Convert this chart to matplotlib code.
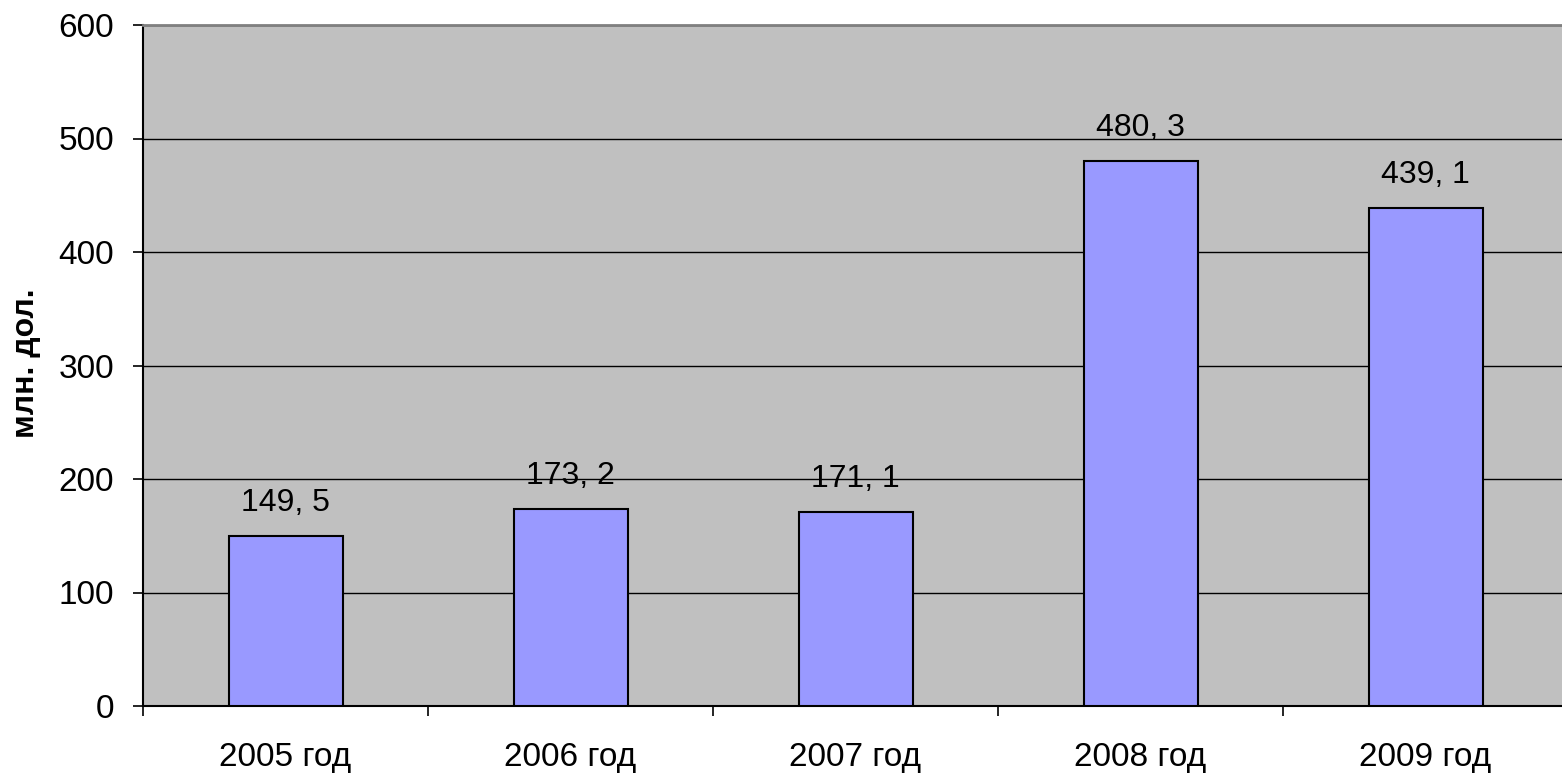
import matplotlib
matplotlib.use("Agg")
import matplotlib.pyplot as plt
import numpy as np

plt.rcParams['font.family'] = ['Liberation Sans', 'DejaVu Sans']

categories = ["2005 год", "2006 год", "2007 год", "2008 год", "2009 год"]
values = [149.5, 173.2, 171.1, 480.3, 439.1]
value_labels = ["149, 5", "173, 2", "171, 1", "480, 3", "439, 1"]
yticks = [0, 100, 200, 300, 400, 500, 600]

W, H = 1562, 774
fig = plt.figure(figsize=(W / 100, H / 100), dpi=100)
left, right, top, bottom = 143, 1568, 25, 706
ax = fig.add_axes([left / W, (H - bottom) / H, (right - left) / W, (bottom - top) / H])
ax.set_facecolor("#C0C0C0")

x = np.arange(len(categories))
ax.bar(x, values, width=0.4, color="#9999FF", edgecolor="black", linewidth=1.5, zorder=3)

for xi, v, lab in zip(x, values, value_labels):
    ax.annotate(lab, (xi, v), xytext=(0, 18), textcoords="offset points",
                ha="center", va="baseline", fontsize=23, color="black", zorder=4)

ax.set_xlim(-0.5, len(categories) - 0.5)
ax.set_ylim(0, 600)
ax.set_yticks(yticks)
ax.set_yticklabels([str(t) for t in yticks], fontsize=24)
ax.yaxis.grid(True, color="black", linewidth=1.0, zorder=0)
ax.set_axisbelow(True)

ax.set_xticks(x)
ax.set_xticklabels(categories, fontsize=24)
ax.set_xticks(np.arange(len(categories) + 1) - 0.5, minor=True)
ax.tick_params(axis="x", which="major", length=0, pad=26)
ax.tick_params(axis="x", which="minor", length=7, width=1.2, direction="out", color="black")
ax.tick_params(axis="y", which="major", length=7, width=1.2, direction="out", pad=14)

for s in ["left", "bottom"]:
    ax.spines[s].set_color("black")
    ax.spines[s].set_linewidth(1.5)
ax.spines["top"].set_color("#808080")
ax.spines["top"].set_linewidth(2)
ax.spines["right"].set_visible(False)

fig.text(26 / W, 1 - 363 / H, "млн. дол.", rotation=90, fontsize=23, fontweight="bold",
         ha="center", va="center")

fig.savefig("out.png", dpi=100, facecolor="white")
